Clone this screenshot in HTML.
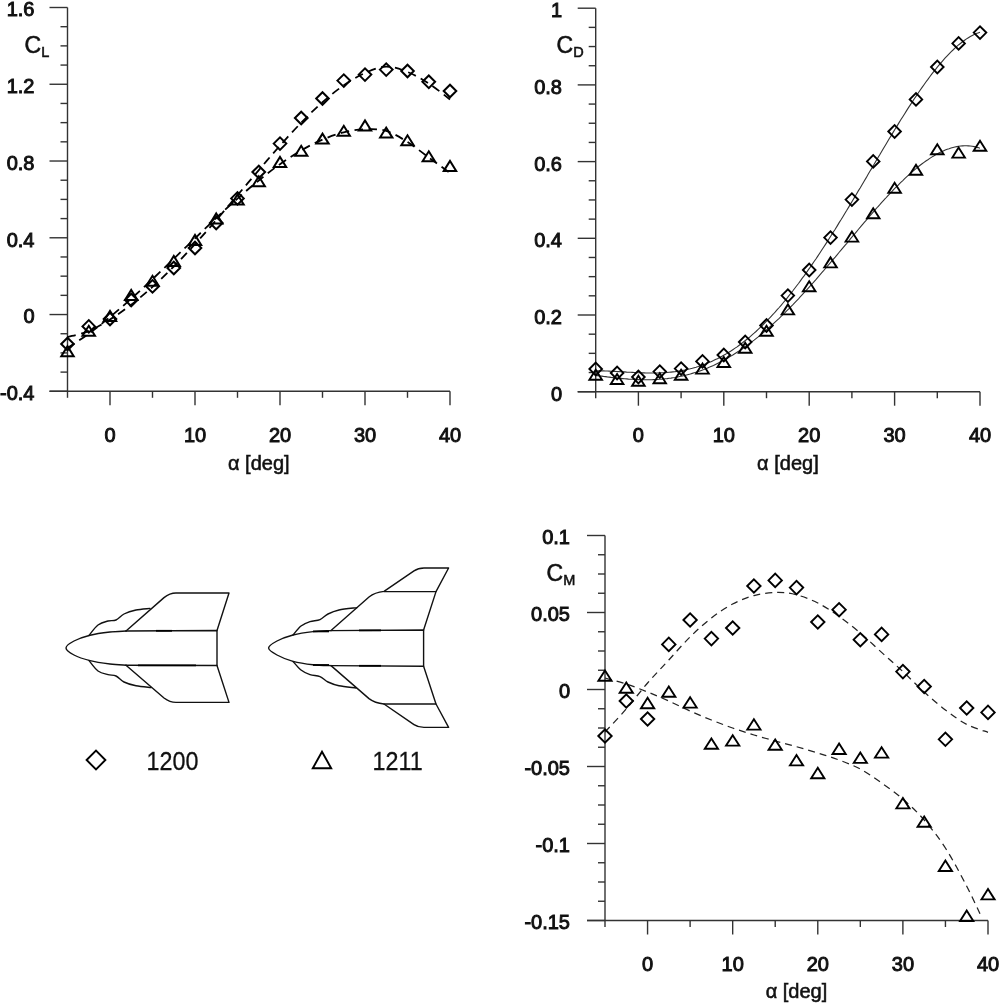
<!DOCTYPE html>
<html lang="en"><head><meta charset="utf-8"><title>Aerodynamic coefficients</title>
<style>
html,body{margin:0;padding:0;background:#fff;}
body{width:1000px;height:1003px;overflow:hidden;}
svg{display:block;}
text{font-family:'Liberation Sans', Arial, Helvetica, sans-serif;fill:#111;stroke:#111;stroke-width:0.95px;}
svg{filter:blur(0.45px);}
.t{font-size:20px;}
.c{font-size:23px;stroke-width:0.55px;}
.a{stroke-width:0.55px;}
.s{font-size:14.5px;}
.l{font-size:26.5px;stroke-width:0.3px;}
</style></head><body>
<svg width="1000" height="1003" viewBox="0 0 1000 1003">
<rect width="1000" height="1003" fill="#fff"/>
<path d="M67.50,7.50V391.30" stroke="#333" stroke-width="1.4" fill="none"/>
<path d="M49.50,391.30H450.00" stroke="#333" stroke-width="1.4" fill="none"/>
<path d="M49.50,7.50H67.50" stroke="#333" stroke-width="1.4"/>
<path d="M60.50,26.69H67.50" stroke="#333" stroke-width="1.4"/>
<path d="M60.50,45.88H67.50" stroke="#333" stroke-width="1.4"/>
<path d="M60.50,65.07H67.50" stroke="#333" stroke-width="1.4"/>
<path d="M49.50,84.26H67.50" stroke="#333" stroke-width="1.4"/>
<path d="M60.50,103.45H67.50" stroke="#333" stroke-width="1.4"/>
<path d="M60.50,122.64H67.50" stroke="#333" stroke-width="1.4"/>
<path d="M60.50,141.83H67.50" stroke="#333" stroke-width="1.4"/>
<path d="M49.50,161.02H67.50" stroke="#333" stroke-width="1.4"/>
<path d="M60.50,180.21H67.50" stroke="#333" stroke-width="1.4"/>
<path d="M60.50,199.40H67.50" stroke="#333" stroke-width="1.4"/>
<path d="M60.50,218.59H67.50" stroke="#333" stroke-width="1.4"/>
<path d="M49.50,237.78H67.50" stroke="#333" stroke-width="1.4"/>
<path d="M60.50,256.97H67.50" stroke="#333" stroke-width="1.4"/>
<path d="M60.50,276.16H67.50" stroke="#333" stroke-width="1.4"/>
<path d="M60.50,295.35H67.50" stroke="#333" stroke-width="1.4"/>
<path d="M49.50,314.54H67.50" stroke="#333" stroke-width="1.4"/>
<path d="M60.50,333.73H67.50" stroke="#333" stroke-width="1.4"/>
<path d="M60.50,352.92H67.50" stroke="#333" stroke-width="1.4"/>
<path d="M60.50,372.11H67.50" stroke="#333" stroke-width="1.4"/>
<path d="M49.50,391.30H67.50" stroke="#333" stroke-width="1.4"/>
<text x="34.5" y="16.4" text-anchor="end" class="t">1.6</text>
<text x="34.5" y="93.2" text-anchor="end" class="t">1.2</text>
<text x="34.5" y="169.9" text-anchor="end" class="t">0.8</text>
<text x="34.5" y="246.7" text-anchor="end" class="t">0.4</text>
<text x="34.5" y="323.4" text-anchor="end" class="t">0</text>
<text x="34.5" y="400.2" text-anchor="end" class="t">-0.4</text>
<path d="M67.50,391.30V397.80" stroke="#333" stroke-width="1.4"/>
<path d="M110.00,391.30V405.30" stroke="#333" stroke-width="1.4"/>
<text x="110.0" y="441.7" text-anchor="middle" class="t">0</text>
<path d="M152.50,391.30V397.80" stroke="#333" stroke-width="1.4"/>
<path d="M195.00,391.30V405.30" stroke="#333" stroke-width="1.4"/>
<text x="195.0" y="441.7" text-anchor="middle" class="t">10</text>
<path d="M237.50,391.30V397.80" stroke="#333" stroke-width="1.4"/>
<path d="M280.00,391.30V405.30" stroke="#333" stroke-width="1.4"/>
<text x="280.0" y="441.7" text-anchor="middle" class="t">20</text>
<path d="M322.50,391.30V397.80" stroke="#333" stroke-width="1.4"/>
<path d="M365.00,391.30V405.30" stroke="#333" stroke-width="1.4"/>
<text x="365.0" y="441.7" text-anchor="middle" class="t">30</text>
<path d="M407.50,391.30V397.80" stroke="#333" stroke-width="1.4"/>
<path d="M450.00,391.30V405.30" stroke="#333" stroke-width="1.4"/>
<text x="450.0" y="441.7" text-anchor="middle" class="t">40</text>
<text x="258.8" y="469.8" text-anchor="middle" class="t a">α [deg]</text>
<text x="24.5" y="53.2" class="c">C<tspan class="s" dy="4">L</tspan></text>
<path d="M67.5,337.0C71.0,336.0 81.7,334.0 88.8,331.1C95.8,328.2 102.9,323.9 110.0,319.5C117.1,315.1 124.2,310.1 131.2,304.7C138.3,299.2 145.4,293.2 152.5,286.9C159.6,280.5 166.7,273.7 173.8,266.5C180.8,259.4 187.9,251.8 195.0,244.1C202.1,236.3 209.2,228.2 216.2,220.1C223.3,211.9 230.4,203.5 237.5,195.2C244.6,186.9 251.7,178.4 258.8,170.1C265.8,161.9 272.9,153.6 280.0,145.6C287.1,137.7 294.2,129.9 301.2,122.7C308.3,115.4 315.4,108.4 322.5,102.2C329.6,96.0 336.7,90.1 343.8,85.3C350.8,80.4 357.9,76.1 365.0,73.0C372.1,69.9 379.2,66.8 386.2,66.6C393.3,66.5 400.4,69.2 407.5,72.0C414.6,74.8 421.7,78.9 428.8,83.5C435.8,88.1 446.5,96.8 450.0,99.5" fill="none" stroke="#000" stroke-width="1.8" stroke-dasharray="8.5 5.5"/>
<path d="M67.5,348.0C71.0,345.6 81.7,338.8 88.8,333.7C95.8,328.5 102.9,322.9 110.0,317.0C117.1,311.2 124.2,305.0 131.2,298.7C138.3,292.4 145.4,285.8 152.5,279.1C159.6,272.5 166.7,265.6 173.8,258.8C180.8,252.0 187.9,245.1 195.0,238.3C202.1,231.5 209.2,224.7 216.2,218.0C223.3,211.4 230.4,204.8 237.5,198.6C244.6,192.3 251.7,186.2 258.8,180.5C265.8,174.7 272.9,169.2 280.0,164.2C287.1,159.2 294.2,154.5 301.2,150.4C308.3,146.3 315.4,142.6 322.5,139.6C329.6,136.6 336.7,134.1 343.8,132.4C350.8,130.6 357.9,129.5 365.0,129.3C372.1,129.0 379.2,128.8 386.2,130.9C393.3,133.0 400.4,137.6 407.5,142.0C414.6,146.4 421.7,152.3 428.8,157.5C435.8,162.7 446.5,170.4 450.0,173.0" fill="none" stroke="#000" stroke-width="1.8" stroke-dasharray="8.5 5.5"/>
<path d="M61.2,344.0L67.5,337.7L73.8,344.0L67.5,350.3Z" fill="none" stroke="#000" stroke-width="2.0" stroke-linejoin="miter"/>
<path d="M82.5,326.4L88.8,320.1L95.0,326.4L88.8,332.7Z" fill="none" stroke="#000" stroke-width="2.0" stroke-linejoin="miter"/>
<path d="M103.7,319.0L110.0,312.7L116.3,319.0L110.0,325.3Z" fill="none" stroke="#000" stroke-width="2.0" stroke-linejoin="miter"/>
<path d="M125.0,300.0L131.2,293.7L137.6,300.0L131.2,306.3Z" fill="none" stroke="#000" stroke-width="2.0" stroke-linejoin="miter"/>
<path d="M146.2,286.4L152.5,280.1L158.8,286.4L152.5,292.7Z" fill="none" stroke="#000" stroke-width="2.0" stroke-linejoin="miter"/>
<path d="M167.4,268.0L173.8,261.7L180.1,268.0L173.8,274.3Z" fill="none" stroke="#000" stroke-width="2.0" stroke-linejoin="miter"/>
<path d="M188.7,248.0L195.0,241.7L201.3,248.0L195.0,254.3Z" fill="none" stroke="#000" stroke-width="2.0" stroke-linejoin="miter"/>
<path d="M209.9,223.0L216.2,216.7L222.6,223.0L216.2,229.3Z" fill="none" stroke="#000" stroke-width="2.0" stroke-linejoin="miter"/>
<path d="M231.2,198.4L237.5,192.1L243.8,198.4L237.5,204.7Z" fill="none" stroke="#000" stroke-width="2.0" stroke-linejoin="miter"/>
<path d="M252.4,172.0L258.8,165.7L265.1,172.0L258.8,178.3Z" fill="none" stroke="#000" stroke-width="2.0" stroke-linejoin="miter"/>
<path d="M273.7,143.6L280.0,137.3L286.3,143.6L280.0,149.9Z" fill="none" stroke="#000" stroke-width="2.0" stroke-linejoin="miter"/>
<path d="M294.9,118.0L301.2,111.7L307.6,118.0L301.2,124.3Z" fill="none" stroke="#000" stroke-width="2.0" stroke-linejoin="miter"/>
<path d="M316.2,98.5L322.5,92.2L328.8,98.5L322.5,104.8Z" fill="none" stroke="#000" stroke-width="2.0" stroke-linejoin="miter"/>
<path d="M337.4,80.6L343.8,74.3L350.1,80.6L343.8,86.9Z" fill="none" stroke="#000" stroke-width="2.0" stroke-linejoin="miter"/>
<path d="M358.7,74.6L365.0,68.3L371.3,74.6L365.0,80.9Z" fill="none" stroke="#000" stroke-width="2.0" stroke-linejoin="miter"/>
<path d="M379.9,69.6L386.2,63.3L392.6,69.6L386.2,75.9Z" fill="none" stroke="#000" stroke-width="2.0" stroke-linejoin="miter"/>
<path d="M401.2,71.0L407.5,64.7L413.8,71.0L407.5,77.3Z" fill="none" stroke="#000" stroke-width="2.0" stroke-linejoin="miter"/>
<path d="M422.4,81.8L428.8,75.5L435.1,81.8L428.8,88.1Z" fill="none" stroke="#000" stroke-width="2.0" stroke-linejoin="miter"/>
<path d="M443.7,91.0L450.0,84.7L456.3,91.0L450.0,97.3Z" fill="none" stroke="#000" stroke-width="2.0" stroke-linejoin="miter"/>
<path d="M61.3,356.2L67.5,346.2L73.7,356.2Z" fill="none" stroke="#000" stroke-width="2.0" stroke-linejoin="miter"/>
<path d="M82.5,335.8L88.8,325.8L95.0,335.8Z" fill="none" stroke="#000" stroke-width="2.0" stroke-linejoin="miter"/>
<path d="M103.8,321.0L110.0,311.0L116.2,321.0Z" fill="none" stroke="#000" stroke-width="2.0" stroke-linejoin="miter"/>
<path d="M125.0,300.0L131.2,290.0L137.4,300.0Z" fill="none" stroke="#000" stroke-width="2.0" stroke-linejoin="miter"/>
<path d="M146.3,285.8L152.5,275.8L158.7,285.8Z" fill="none" stroke="#000" stroke-width="2.0" stroke-linejoin="miter"/>
<path d="M167.6,266.0L173.8,256.0L179.9,266.0Z" fill="none" stroke="#000" stroke-width="2.0" stroke-linejoin="miter"/>
<path d="M188.8,245.0L195.0,235.0L201.2,245.0Z" fill="none" stroke="#000" stroke-width="2.0" stroke-linejoin="miter"/>
<path d="M210.1,223.5L216.2,213.5L222.4,223.5Z" fill="none" stroke="#000" stroke-width="2.0" stroke-linejoin="miter"/>
<path d="M231.3,204.5L237.5,194.5L243.7,204.5Z" fill="none" stroke="#000" stroke-width="2.0" stroke-linejoin="miter"/>
<path d="M252.6,186.3L258.8,176.3L264.9,186.3Z" fill="none" stroke="#000" stroke-width="2.0" stroke-linejoin="miter"/>
<path d="M273.8,167.0L280.0,157.0L286.2,167.0Z" fill="none" stroke="#000" stroke-width="2.0" stroke-linejoin="miter"/>
<path d="M295.1,155.8L301.2,145.8L307.4,155.8Z" fill="none" stroke="#000" stroke-width="2.0" stroke-linejoin="miter"/>
<path d="M316.3,143.6L322.5,133.6L328.7,143.6Z" fill="none" stroke="#000" stroke-width="2.0" stroke-linejoin="miter"/>
<path d="M337.6,135.8L343.8,125.8L349.9,135.8Z" fill="none" stroke="#000" stroke-width="2.0" stroke-linejoin="miter"/>
<path d="M358.8,130.5L365.0,120.5L371.2,130.5Z" fill="none" stroke="#000" stroke-width="2.0" stroke-linejoin="miter"/>
<path d="M380.1,137.6L386.2,127.6L392.4,137.6Z" fill="none" stroke="#000" stroke-width="2.0" stroke-linejoin="miter"/>
<path d="M401.3,145.3L407.5,135.3L413.7,145.3Z" fill="none" stroke="#000" stroke-width="2.0" stroke-linejoin="miter"/>
<path d="M422.6,161.3L428.8,151.3L434.9,161.3Z" fill="none" stroke="#000" stroke-width="2.0" stroke-linejoin="miter"/>
<path d="M443.8,170.9L450.0,160.9L456.2,170.9Z" fill="none" stroke="#000" stroke-width="2.0" stroke-linejoin="miter"/>
<path d="M595.70,8.20V391.70" stroke="#333" stroke-width="1.4" fill="none"/>
<path d="M577.70,391.70H980.00" stroke="#333" stroke-width="1.4" fill="none"/>
<path d="M577.70,8.20H595.70" stroke="#333" stroke-width="1.4"/>
<path d="M588.70,27.38H595.70" stroke="#333" stroke-width="1.4"/>
<path d="M588.70,46.55H595.70" stroke="#333" stroke-width="1.4"/>
<path d="M588.70,65.73H595.70" stroke="#333" stroke-width="1.4"/>
<path d="M577.70,84.90H595.70" stroke="#333" stroke-width="1.4"/>
<path d="M588.70,104.08H595.70" stroke="#333" stroke-width="1.4"/>
<path d="M588.70,123.25H595.70" stroke="#333" stroke-width="1.4"/>
<path d="M588.70,142.43H595.70" stroke="#333" stroke-width="1.4"/>
<path d="M577.70,161.60H595.70" stroke="#333" stroke-width="1.4"/>
<path d="M588.70,180.77H595.70" stroke="#333" stroke-width="1.4"/>
<path d="M588.70,199.95H595.70" stroke="#333" stroke-width="1.4"/>
<path d="M588.70,219.12H595.70" stroke="#333" stroke-width="1.4"/>
<path d="M577.70,238.30H595.70" stroke="#333" stroke-width="1.4"/>
<path d="M588.70,257.47H595.70" stroke="#333" stroke-width="1.4"/>
<path d="M588.70,276.65H595.70" stroke="#333" stroke-width="1.4"/>
<path d="M588.70,295.82H595.70" stroke="#333" stroke-width="1.4"/>
<path d="M577.70,315.00H595.70" stroke="#333" stroke-width="1.4"/>
<path d="M588.70,334.18H595.70" stroke="#333" stroke-width="1.4"/>
<path d="M588.70,353.35H595.70" stroke="#333" stroke-width="1.4"/>
<path d="M588.70,372.52H595.70" stroke="#333" stroke-width="1.4"/>
<path d="M577.70,391.70H595.70" stroke="#333" stroke-width="1.4"/>
<text x="562.0" y="17.1" text-anchor="end" class="t">1</text>
<text x="562.0" y="93.8" text-anchor="end" class="t">0.8</text>
<text x="562.0" y="170.5" text-anchor="end" class="t">0.6</text>
<text x="562.0" y="247.2" text-anchor="end" class="t">0.4</text>
<text x="562.0" y="323.9" text-anchor="end" class="t">0.2</text>
<text x="562.0" y="400.6" text-anchor="end" class="t">0</text>
<path d="M595.70,391.70V398.20" stroke="#333" stroke-width="1.4"/>
<path d="M638.40,391.70V405.70" stroke="#333" stroke-width="1.4"/>
<text x="638.4" y="442.2" text-anchor="middle" class="t">0</text>
<path d="M681.10,391.70V398.20" stroke="#333" stroke-width="1.4"/>
<path d="M723.80,391.70V405.70" stroke="#333" stroke-width="1.4"/>
<text x="723.8" y="442.2" text-anchor="middle" class="t">10</text>
<path d="M766.50,391.70V398.20" stroke="#333" stroke-width="1.4"/>
<path d="M809.20,391.70V405.70" stroke="#333" stroke-width="1.4"/>
<text x="809.2" y="442.2" text-anchor="middle" class="t">20</text>
<path d="M851.90,391.70V398.20" stroke="#333" stroke-width="1.4"/>
<path d="M894.60,391.70V405.70" stroke="#333" stroke-width="1.4"/>
<text x="894.6" y="442.2" text-anchor="middle" class="t">30</text>
<path d="M937.30,391.70V398.20" stroke="#333" stroke-width="1.4"/>
<path d="M980.00,391.70V405.70" stroke="#333" stroke-width="1.4"/>
<text x="980.0" y="442.2" text-anchor="middle" class="t">40</text>
<text x="787.9" y="470.3" text-anchor="middle" class="t a">α [deg]</text>
<text x="556.5" y="53.2" class="c">C<tspan class="s" dy="4">D</tspan></text>
<path d="M595.7,370.9L597.6,370.9L599.6,370.9L601.5,370.9L603.4,370.9L605.4,371.0L607.3,371.0L609.2,371.1L611.1,371.2L613.1,371.3L615.0,371.4L616.9,371.5L618.9,371.6L620.8,371.7L622.7,371.8L624.7,371.9L626.6,372.1L628.5,372.2L630.5,372.3L632.4,372.4L634.3,372.5L636.3,372.6L638.2,372.7L640.1,372.8L642.0,372.9L644.0,372.9L645.9,373.0L647.8,373.0L649.8,373.0L651.7,373.0L653.6,373.0L655.6,373.0L657.5,373.0L659.4,372.9L661.4,372.8L663.3,372.7L665.2,372.6L667.2,372.5L669.1,372.3L671.0,372.1L672.9,371.9L674.9,371.7L676.8,371.4L678.7,371.1L680.7,370.8L682.6,370.4L684.5,370.1L686.5,369.7L688.4,369.2L690.3,368.8L692.3,368.3L694.2,367.7L696.1,367.2L698.1,366.6L700.0,365.9L701.9,365.3L703.8,364.6L705.8,363.9L707.7,363.1L709.6,362.3L711.6,361.4L713.5,360.6L715.4,359.6L717.4,358.7L719.3,357.7L721.2,356.7L723.2,355.6L725.1,354.5L727.0,353.4L728.9,352.2L730.9,351.0L732.8,349.7L734.7,348.4L736.7,347.1L738.6,345.7L740.5,344.3L742.5,342.8L744.4,341.3L746.3,339.8L748.3,338.2L750.2,336.6L752.1,334.9L754.1,333.2L756.0,331.5L757.9,329.7L759.8,327.9L761.8,326.0L763.7,324.1L765.6,322.2L767.6,320.2L769.5,318.2L771.4,316.1L773.4,314.0L775.3,311.9L777.2,309.7L779.2,307.5L781.1,305.3L783.0,303.0L785.0,300.7L786.9,298.3L788.8,295.9L790.7,293.5L792.7,291.0L794.6,288.5L796.5,286.0L798.5,283.5L800.4,280.9L802.3,278.2L804.3,275.6L806.2,272.9L808.1,270.1L810.1,267.4L812.0,264.6L813.9,261.8L815.9,259.0L817.8,256.1L819.7,253.2L821.6,250.3L823.6,247.3L825.5,244.4L827.4,241.4L829.4,238.3L831.3,235.3L833.2,232.2L835.2,229.2L837.1,226.1L839.0,222.9L841.0,219.8L842.9,216.7L844.8,213.5L846.8,210.3L848.7,207.1L850.6,203.9L852.5,200.7L854.5,197.4L856.4,194.2L858.3,190.9L860.3,187.7L862.2,184.4L864.1,181.2L866.1,177.9L868.0,174.6L869.9,171.3L871.9,168.1L873.8,164.8L875.7,161.5L877.6,158.2L879.6,155.0L881.5,151.7L883.4,148.5L885.4,145.2L887.3,142.0L889.2,138.8L891.2,135.6L893.1,132.4L895.0,129.2L897.0,126.1L898.9,122.9L900.8,119.8L902.8,116.7L904.7,113.7L906.6,110.6L908.5,107.6L910.5,104.6L912.4,101.7L914.3,98.7L916.3,95.9L918.2,93.0L920.1,90.2L922.1,87.4L924.0,84.7L925.9,82.0L927.9,79.4L929.8,76.8L931.7,74.2L933.7,71.7L935.6,69.3L937.5,66.9L939.4,64.6L941.4,62.3L943.3,60.1L945.2,57.9L947.2,55.8L949.1,53.8L951.0,51.8L953.0,50.0L954.9,48.1L956.8,46.4L958.8,44.7L960.7,43.2L962.6,41.7L964.6,40.2L966.5,38.9L968.4,37.7L970.3,36.5L972.3,35.5L974.2,34.5L976.1,33.6L978.1,32.9L980.0,32.2" fill="none" stroke="#333" stroke-width="1.1"/>
<path d="M595.7,375.4L597.6,375.6L599.6,375.9L601.5,376.1L603.4,376.4L605.4,376.6L607.3,376.9L609.2,377.1L611.1,377.4L613.1,377.6L615.0,377.8L616.9,378.0L618.9,378.2L620.8,378.4L622.7,378.6L624.7,378.8L626.6,378.9L628.5,379.1L630.5,379.2L632.4,379.3L634.3,379.5L636.3,379.6L638.2,379.6L640.1,379.7L642.0,379.7L644.0,379.8L645.9,379.8L647.8,379.8L649.8,379.8L651.7,379.7L653.6,379.6L655.6,379.6L657.5,379.5L659.4,379.3L661.4,379.2L663.3,379.0L665.2,378.8L667.2,378.6L669.1,378.3L671.0,378.1L672.9,377.8L674.9,377.5L676.8,377.1L678.7,376.7L680.7,376.3L682.6,375.9L684.5,375.5L686.5,375.0L688.4,374.5L690.3,374.0L692.3,373.4L694.2,372.8L696.1,372.2L698.1,371.6L700.0,370.9L701.9,370.2L703.8,369.5L705.8,368.7L707.7,367.9L709.6,367.1L711.6,366.2L713.5,365.4L715.4,364.5L717.4,363.5L719.3,362.6L721.2,361.6L723.2,360.5L725.1,359.5L727.0,358.4L728.9,357.3L730.9,356.1L732.8,355.0L734.7,353.8L736.7,352.5L738.6,351.3L740.5,350.0L742.5,348.7L744.4,347.3L746.3,345.9L748.3,344.5L750.2,343.1L752.1,341.6L754.1,340.1L756.0,338.6L757.9,337.1L759.8,335.5L761.8,333.9L763.7,332.3L765.6,330.6L767.6,328.9L769.5,327.2L771.4,325.5L773.4,323.7L775.3,321.9L777.2,320.1L779.2,318.3L781.1,316.4L783.0,314.6L785.0,312.7L786.9,310.7L788.8,308.8L790.7,306.8L792.7,304.8L794.6,302.8L796.5,300.8L798.5,298.8L800.4,296.7L802.3,294.6L804.3,292.5L806.2,290.4L808.1,288.3L810.1,286.1L812.0,284.0L813.9,281.8L815.9,279.6L817.8,277.4L819.7,275.2L821.6,272.9L823.6,270.7L825.5,268.5L827.4,266.2L829.4,263.9L831.3,261.7L833.2,259.4L835.2,257.1L837.1,254.8L839.0,252.5L841.0,250.2L842.9,247.9L844.8,245.6L846.8,243.3L848.7,241.0L850.6,238.7L852.5,236.4L854.5,234.1L856.4,231.8L858.3,229.5L860.3,227.2L862.2,224.9L864.1,222.6L866.1,220.4L868.0,218.1L869.9,215.9L871.9,213.6L873.8,211.4L875.7,209.2L877.6,207.0L879.6,204.9L881.5,202.7L883.4,200.6L885.4,198.5L887.3,196.4L889.2,194.3L891.2,192.3L893.1,190.2L895.0,188.2L897.0,186.3L898.9,184.3L900.8,182.4L902.8,180.6L904.7,178.7L906.6,176.9L908.5,175.1L910.5,173.4L912.4,171.7L914.3,170.0L916.3,168.4L918.2,166.8L920.1,165.3L922.1,163.8L924.0,162.4L925.9,161.0L927.9,159.7L929.8,158.4L931.7,157.1L933.7,156.0L935.6,154.8L937.5,153.8L939.4,152.8L941.4,151.8L943.3,150.9L945.2,150.1L947.2,149.3L949.1,148.7L951.0,148.0L953.0,147.5L954.9,147.0L956.8,146.6L958.8,146.3L960.7,146.0L962.6,145.9L964.6,145.8L966.5,145.8L968.4,145.9L970.3,146.0L972.3,146.3L974.2,146.6L976.1,147.1L978.1,147.6L980.0,148.2" fill="none" stroke="#333" stroke-width="1.1"/>
<path d="M589.4,369.0L595.7,362.7L602.0,369.0L595.7,375.3Z" fill="none" stroke="#000" stroke-width="1.9" stroke-linejoin="miter"/>
<path d="M610.8,373.0L617.1,366.7L623.4,373.0L617.1,379.3Z" fill="none" stroke="#000" stroke-width="1.9" stroke-linejoin="miter"/>
<path d="M632.1,377.0L638.4,370.7L644.7,377.0L638.4,383.3Z" fill="none" stroke="#000" stroke-width="1.9" stroke-linejoin="miter"/>
<path d="M653.5,371.6L659.8,365.3L666.0,371.6L659.8,377.9Z" fill="none" stroke="#000" stroke-width="1.9" stroke-linejoin="miter"/>
<path d="M674.8,368.6L681.1,362.3L687.4,368.6L681.1,374.9Z" fill="none" stroke="#000" stroke-width="1.9" stroke-linejoin="miter"/>
<path d="M696.2,361.4L702.5,355.1L708.8,361.4L702.5,367.7Z" fill="none" stroke="#000" stroke-width="1.9" stroke-linejoin="miter"/>
<path d="M717.5,355.0L723.8,348.7L730.1,355.0L723.8,361.3Z" fill="none" stroke="#000" stroke-width="1.9" stroke-linejoin="miter"/>
<path d="M738.9,342.0L745.2,335.7L751.5,342.0L745.2,348.3Z" fill="none" stroke="#000" stroke-width="1.9" stroke-linejoin="miter"/>
<path d="M760.2,325.5L766.5,319.2L772.8,325.5L766.5,331.8Z" fill="none" stroke="#000" stroke-width="1.9" stroke-linejoin="miter"/>
<path d="M781.6,295.6L787.9,289.3L794.1,295.6L787.9,301.9Z" fill="none" stroke="#000" stroke-width="1.9" stroke-linejoin="miter"/>
<path d="M802.9,270.0L809.2,263.7L815.5,270.0L809.2,276.3Z" fill="none" stroke="#000" stroke-width="1.9" stroke-linejoin="miter"/>
<path d="M824.2,237.6L830.5,231.3L836.8,237.6L830.5,243.9Z" fill="none" stroke="#000" stroke-width="1.9" stroke-linejoin="miter"/>
<path d="M845.6,199.6L851.9,193.3L858.2,199.6L851.9,205.9Z" fill="none" stroke="#000" stroke-width="1.9" stroke-linejoin="miter"/>
<path d="M867.0,161.4L873.2,155.1L879.5,161.4L873.2,167.7Z" fill="none" stroke="#000" stroke-width="1.9" stroke-linejoin="miter"/>
<path d="M888.3,131.5L894.6,125.2L900.9,131.5L894.6,137.8Z" fill="none" stroke="#000" stroke-width="1.9" stroke-linejoin="miter"/>
<path d="M909.7,99.4L916.0,93.1L922.2,99.4L916.0,105.7Z" fill="none" stroke="#000" stroke-width="1.9" stroke-linejoin="miter"/>
<path d="M931.0,67.0L937.3,60.7L943.6,67.0L937.3,73.3Z" fill="none" stroke="#000" stroke-width="1.9" stroke-linejoin="miter"/>
<path d="M952.4,43.4L958.6,37.1L964.9,43.4L958.6,49.7Z" fill="none" stroke="#000" stroke-width="1.9" stroke-linejoin="miter"/>
<path d="M973.7,32.6L980.0,26.3L986.3,32.6L980.0,38.9Z" fill="none" stroke="#000" stroke-width="1.9" stroke-linejoin="miter"/>
<path d="M589.4,379.8L595.7,369.8L602.0,379.8Z" fill="none" stroke="#000" stroke-width="1.9" stroke-linejoin="miter"/>
<path d="M610.8,384.0L617.1,374.0L623.4,384.0Z" fill="none" stroke="#000" stroke-width="1.9" stroke-linejoin="miter"/>
<path d="M632.1,385.8L638.4,375.8L644.7,385.8Z" fill="none" stroke="#000" stroke-width="1.9" stroke-linejoin="miter"/>
<path d="M653.5,383.2L659.8,373.2L666.0,383.2Z" fill="none" stroke="#000" stroke-width="1.9" stroke-linejoin="miter"/>
<path d="M674.8,379.8L681.1,369.8L687.4,379.8Z" fill="none" stroke="#000" stroke-width="1.9" stroke-linejoin="miter"/>
<path d="M696.2,373.6L702.5,363.6L708.8,373.6Z" fill="none" stroke="#000" stroke-width="1.9" stroke-linejoin="miter"/>
<path d="M717.5,367.0L723.8,357.0L730.1,367.0Z" fill="none" stroke="#000" stroke-width="1.9" stroke-linejoin="miter"/>
<path d="M738.9,352.8L745.2,342.8L751.5,352.8Z" fill="none" stroke="#000" stroke-width="1.9" stroke-linejoin="miter"/>
<path d="M760.2,335.8L766.5,325.8L772.8,335.8Z" fill="none" stroke="#000" stroke-width="1.9" stroke-linejoin="miter"/>
<path d="M781.6,314.4L787.9,304.4L794.1,314.4Z" fill="none" stroke="#000" stroke-width="1.9" stroke-linejoin="miter"/>
<path d="M802.9,291.2L809.2,281.2L815.5,291.2Z" fill="none" stroke="#000" stroke-width="1.9" stroke-linejoin="miter"/>
<path d="M824.2,267.4L830.5,257.4L836.8,267.4Z" fill="none" stroke="#000" stroke-width="1.9" stroke-linejoin="miter"/>
<path d="M845.6,241.6L851.9,231.6L858.2,241.6Z" fill="none" stroke="#000" stroke-width="1.9" stroke-linejoin="miter"/>
<path d="M867.0,218.2L873.2,208.2L879.5,218.2Z" fill="none" stroke="#000" stroke-width="1.9" stroke-linejoin="miter"/>
<path d="M888.3,192.8L894.6,182.8L900.9,192.8Z" fill="none" stroke="#000" stroke-width="1.9" stroke-linejoin="miter"/>
<path d="M909.7,174.8L916.0,164.8L922.2,174.8Z" fill="none" stroke="#000" stroke-width="1.9" stroke-linejoin="miter"/>
<path d="M931.0,154.2L937.3,144.2L943.6,154.2Z" fill="none" stroke="#000" stroke-width="1.9" stroke-linejoin="miter"/>
<path d="M952.4,157.6L958.6,147.6L964.9,157.6Z" fill="none" stroke="#000" stroke-width="1.9" stroke-linejoin="miter"/>
<path d="M973.7,150.8L980.0,140.8L986.3,150.8Z" fill="none" stroke="#000" stroke-width="1.9" stroke-linejoin="miter"/>
<path d="M605.00,535.50V920.50" stroke="#333" stroke-width="1.4" fill="none"/>
<path d="M587.00,920.50H988.00" stroke="#333" stroke-width="1.4" fill="none"/>
<path d="M587.00,535.50H605.00" stroke="#333" stroke-width="1.4"/>
<path d="M598.00,554.75H605.00" stroke="#333" stroke-width="1.4"/>
<path d="M598.00,574.00H605.00" stroke="#333" stroke-width="1.4"/>
<path d="M598.00,593.25H605.00" stroke="#333" stroke-width="1.4"/>
<path d="M587.00,612.50H605.00" stroke="#333" stroke-width="1.4"/>
<path d="M598.00,631.75H605.00" stroke="#333" stroke-width="1.4"/>
<path d="M598.00,651.00H605.00" stroke="#333" stroke-width="1.4"/>
<path d="M598.00,670.25H605.00" stroke="#333" stroke-width="1.4"/>
<path d="M587.00,689.50H605.00" stroke="#333" stroke-width="1.4"/>
<path d="M598.00,708.75H605.00" stroke="#333" stroke-width="1.4"/>
<path d="M598.00,728.00H605.00" stroke="#333" stroke-width="1.4"/>
<path d="M598.00,747.25H605.00" stroke="#333" stroke-width="1.4"/>
<path d="M587.00,766.50H605.00" stroke="#333" stroke-width="1.4"/>
<path d="M598.00,785.75H605.00" stroke="#333" stroke-width="1.4"/>
<path d="M598.00,805.00H605.00" stroke="#333" stroke-width="1.4"/>
<path d="M598.00,824.25H605.00" stroke="#333" stroke-width="1.4"/>
<path d="M587.00,843.50H605.00" stroke="#333" stroke-width="1.4"/>
<path d="M598.00,862.75H605.00" stroke="#333" stroke-width="1.4"/>
<path d="M598.00,882.00H605.00" stroke="#333" stroke-width="1.4"/>
<path d="M598.00,901.25H605.00" stroke="#333" stroke-width="1.4"/>
<path d="M587.00,920.50H605.00" stroke="#333" stroke-width="1.4"/>
<text x="570.0" y="544.4" text-anchor="end" class="t">0.1</text>
<text x="570.0" y="621.4" text-anchor="end" class="t">0.05</text>
<text x="570.0" y="698.4" text-anchor="end" class="t">0</text>
<text x="570.0" y="775.4" text-anchor="end" class="t">-0.05</text>
<text x="570.0" y="852.4" text-anchor="end" class="t">-0.1</text>
<text x="570.0" y="929.4" text-anchor="end" class="t">-0.15</text>
<path d="M605.00,920.50V927.00" stroke="#333" stroke-width="1.4"/>
<path d="M647.56,920.50V934.50" stroke="#333" stroke-width="1.4"/>
<text x="647.6" y="971.2" text-anchor="middle" class="t">0</text>
<path d="M690.11,920.50V927.00" stroke="#333" stroke-width="1.4"/>
<path d="M732.67,920.50V934.50" stroke="#333" stroke-width="1.4"/>
<text x="732.7" y="971.2" text-anchor="middle" class="t">10</text>
<path d="M775.22,920.50V927.00" stroke="#333" stroke-width="1.4"/>
<path d="M817.78,920.50V934.50" stroke="#333" stroke-width="1.4"/>
<text x="817.8" y="971.2" text-anchor="middle" class="t">20</text>
<path d="M860.33,920.50V927.00" stroke="#333" stroke-width="1.4"/>
<path d="M902.89,920.50V934.50" stroke="#333" stroke-width="1.4"/>
<text x="902.9" y="971.2" text-anchor="middle" class="t">30</text>
<path d="M945.44,920.50V927.00" stroke="#333" stroke-width="1.4"/>
<path d="M988.00,920.50V934.50" stroke="#333" stroke-width="1.4"/>
<text x="988.0" y="971.2" text-anchor="middle" class="t">40</text>
<text x="796.5" y="997.8" text-anchor="middle" class="t a">α [deg]</text>
<text x="546.5" y="581.0" class="c">C<tspan class="s" dy="4">M</tspan></text>
<path d="M605.0,732.0C608.5,728.2 619.1,717.2 626.2,709.0C633.3,700.8 640.5,691.2 647.6,683.0C654.7,674.8 661.7,667.7 668.8,660.0C675.9,652.3 682.9,644.0 690.0,637.0C697.1,630.0 704.3,623.5 711.4,618.0C718.5,612.5 725.5,607.7 732.6,604.0C739.7,600.3 746.6,597.5 754.0,595.6C761.4,593.7 769.9,592.5 777.0,592.4C784.1,592.3 789.7,593.0 796.5,594.8C803.3,596.6 810.7,599.4 817.8,603.0C824.9,606.6 831.9,611.4 839.0,616.4C846.1,621.4 853.2,627.0 860.3,633.0C867.4,639.0 874.5,646.0 881.6,652.4C888.7,658.8 895.8,665.0 902.9,671.6C910.0,678.2 917.1,685.6 924.2,692.0C931.3,698.4 938.3,704.6 945.4,710.0C952.5,715.4 959.6,720.7 966.7,724.4C973.8,728.1 984.5,731.0 988.0,732.3" fill="none" stroke="#222" stroke-width="1.25" stroke-dasharray="7 5"/>
<path d="M605.0,678.0C608.5,679.0 619.1,681.7 626.2,684.0C633.3,686.3 640.5,689.2 647.6,692.0C654.7,694.8 661.7,697.8 668.8,701.0C675.9,704.2 682.9,707.8 690.0,711.0C697.1,714.2 704.3,717.2 711.4,720.0C718.5,722.8 725.5,725.5 732.6,728.0C739.7,730.5 746.9,732.8 754.0,735.0C761.1,737.2 768.1,739.0 775.2,741.0C782.3,743.0 789.4,744.7 796.5,746.7C803.6,748.7 810.7,750.8 817.8,753.0C824.9,755.2 831.9,757.3 839.0,760.0C846.1,762.7 853.2,765.2 860.3,769.0C867.4,772.8 874.5,778.0 881.6,783.0C888.7,788.0 895.7,792.8 902.8,799.0C909.9,805.2 917.1,811.8 924.2,820.0C931.3,828.2 938.3,837.0 945.4,848.0C952.5,859.0 960.5,874.3 966.6,886.0C972.7,897.7 979.4,912.7 982.0,918.0" fill="none" stroke="#222" stroke-width="1.25" stroke-dasharray="7 5"/>
<path d="M598.3,736.0L605.0,729.3L611.7,736.0L605.0,742.7Z" fill="none" stroke="#000" stroke-width="1.9" stroke-linejoin="miter"/>
<path d="M619.6,701.0L626.3,694.3L633.0,701.0L626.3,707.7Z" fill="none" stroke="#000" stroke-width="1.9" stroke-linejoin="miter"/>
<path d="M640.9,719.0L647.6,712.3L654.3,719.0L647.6,725.7Z" fill="none" stroke="#000" stroke-width="1.9" stroke-linejoin="miter"/>
<path d="M662.1,644.4L668.8,637.7L675.5,644.4L668.8,651.1Z" fill="none" stroke="#000" stroke-width="1.9" stroke-linejoin="miter"/>
<path d="M683.4,620.0L690.1,613.3L696.8,620.0L690.1,626.7Z" fill="none" stroke="#000" stroke-width="1.9" stroke-linejoin="miter"/>
<path d="M704.7,638.6L711.4,631.9L718.1,638.6L711.4,645.3Z" fill="none" stroke="#000" stroke-width="1.9" stroke-linejoin="miter"/>
<path d="M726.0,628.0L732.7,621.3L739.4,628.0L732.7,634.7Z" fill="none" stroke="#000" stroke-width="1.9" stroke-linejoin="miter"/>
<path d="M747.2,586.0L753.9,579.3L760.6,586.0L753.9,592.7Z" fill="none" stroke="#000" stroke-width="1.9" stroke-linejoin="miter"/>
<path d="M768.5,580.4L775.2,573.7L781.9,580.4L775.2,587.1Z" fill="none" stroke="#000" stroke-width="1.9" stroke-linejoin="miter"/>
<path d="M789.8,587.6L796.5,580.9L803.2,587.6L796.5,594.3Z" fill="none" stroke="#000" stroke-width="1.9" stroke-linejoin="miter"/>
<path d="M811.1,622.0L817.8,615.3L824.5,622.0L817.8,628.7Z" fill="none" stroke="#000" stroke-width="1.9" stroke-linejoin="miter"/>
<path d="M832.4,609.7L839.1,603.0L845.8,609.7L839.1,616.4Z" fill="none" stroke="#000" stroke-width="1.9" stroke-linejoin="miter"/>
<path d="M853.6,639.7L860.3,633.0L867.0,639.7L860.3,646.4Z" fill="none" stroke="#000" stroke-width="1.9" stroke-linejoin="miter"/>
<path d="M874.9,634.4L881.6,627.7L888.3,634.4L881.6,641.1Z" fill="none" stroke="#000" stroke-width="1.9" stroke-linejoin="miter"/>
<path d="M896.2,671.6L902.9,664.9L909.6,671.6L902.9,678.3Z" fill="none" stroke="#000" stroke-width="1.9" stroke-linejoin="miter"/>
<path d="M917.5,686.5L924.2,679.8L930.9,686.5L924.2,693.2Z" fill="none" stroke="#000" stroke-width="1.9" stroke-linejoin="miter"/>
<path d="M938.7,739.3L945.4,732.6L952.1,739.3L945.4,746.0Z" fill="none" stroke="#000" stroke-width="1.9" stroke-linejoin="miter"/>
<path d="M960.0,708.0L966.7,701.3L973.4,708.0L966.7,714.7Z" fill="none" stroke="#000" stroke-width="1.9" stroke-linejoin="miter"/>
<path d="M981.3,712.4L988.0,705.7L994.7,712.4L988.0,719.1Z" fill="none" stroke="#000" stroke-width="1.9" stroke-linejoin="miter"/>
<path d="M598.4,680.8L605.0,670.4L611.6,680.8Z" fill="none" stroke="#000" stroke-width="1.9" stroke-linejoin="miter"/>
<path d="M619.7,692.8L626.3,682.4L632.9,692.8Z" fill="none" stroke="#000" stroke-width="1.9" stroke-linejoin="miter"/>
<path d="M641.0,708.2L647.6,697.8L654.2,708.2Z" fill="none" stroke="#000" stroke-width="1.9" stroke-linejoin="miter"/>
<path d="M662.2,696.8L668.8,686.4L675.4,696.8Z" fill="none" stroke="#000" stroke-width="1.9" stroke-linejoin="miter"/>
<path d="M683.5,707.6L690.1,697.2L696.7,707.6Z" fill="none" stroke="#000" stroke-width="1.9" stroke-linejoin="miter"/>
<path d="M704.8,748.8L711.4,738.4L718.0,748.8Z" fill="none" stroke="#000" stroke-width="1.9" stroke-linejoin="miter"/>
<path d="M726.1,745.6L732.7,735.2L739.3,745.6Z" fill="none" stroke="#000" stroke-width="1.9" stroke-linejoin="miter"/>
<path d="M747.3,729.6L753.9,719.2L760.5,729.6Z" fill="none" stroke="#000" stroke-width="1.9" stroke-linejoin="miter"/>
<path d="M768.6,749.8L775.2,739.4L781.8,749.8Z" fill="none" stroke="#000" stroke-width="1.9" stroke-linejoin="miter"/>
<path d="M789.9,765.4L796.5,755.0L803.1,765.4Z" fill="none" stroke="#000" stroke-width="1.9" stroke-linejoin="miter"/>
<path d="M811.2,778.2L817.8,767.8L824.4,778.2Z" fill="none" stroke="#000" stroke-width="1.9" stroke-linejoin="miter"/>
<path d="M832.5,754.0L839.1,743.6L845.7,754.0Z" fill="none" stroke="#000" stroke-width="1.9" stroke-linejoin="miter"/>
<path d="M853.7,762.9L860.3,752.5L866.9,762.9Z" fill="none" stroke="#000" stroke-width="1.9" stroke-linejoin="miter"/>
<path d="M875.0,757.6L881.6,747.2L888.2,757.6Z" fill="none" stroke="#000" stroke-width="1.9" stroke-linejoin="miter"/>
<path d="M896.3,808.4L902.9,798.0L909.5,808.4Z" fill="none" stroke="#000" stroke-width="1.9" stroke-linejoin="miter"/>
<path d="M917.6,826.8L924.2,816.4L930.8,826.8Z" fill="none" stroke="#000" stroke-width="1.9" stroke-linejoin="miter"/>
<path d="M938.8,871.0L945.4,860.6L952.0,871.0Z" fill="none" stroke="#000" stroke-width="1.9" stroke-linejoin="miter"/>
<path d="M960.1,921.0L966.7,910.6L973.3,921.0Z" fill="none" stroke="#000" stroke-width="1.9" stroke-linejoin="miter"/>
<path d="M981.4,899.4L988.0,889.0L994.6,899.4Z" fill="none" stroke="#000" stroke-width="1.9" stroke-linejoin="miter"/>
<path d="M126.0,631.0C123.3,631.2 116.0,631.3 110.0,632.0C104.0,632.7 96.0,633.7 90.0,635.2C84.0,636.7 78.0,638.9 74.0,641.0C70.0,643.1 66.0,645.7 66.0,648.0C66.0,650.3 70.0,652.9 74.0,655.0C78.0,657.1 84.0,659.1 90.0,660.6C96.0,662.1 104.0,663.2 110.0,664.0C116.0,664.8 123.3,665.0 126.0,665.2" fill="none" stroke="#111" stroke-width="1.4" stroke-linejoin="round" stroke-linecap="round"/>
<path d="M126.0,631.0L217.0,630.5L217.0,665.5L126.0,665.2" fill="none" stroke="#111" stroke-width="1.4" stroke-linejoin="round" stroke-linecap="round"/>
<path d="M89.0,635.4C90.5,633.7 94.8,627.4 98.0,625.0C101.2,622.6 105.0,621.8 108.0,621.0C111.0,620.2 113.3,621.2 116.0,620.0C118.7,618.8 120.7,615.7 124.0,614.0C127.3,612.3 131.7,610.9 136.0,610.0C140.3,609.1 147.7,608.7 150.0,608.4" fill="none" stroke="#111" stroke-width="1.4" stroke-linejoin="round" stroke-linecap="round"/>
<path d="M89.0,660.6C90.5,662.3 94.8,668.7 98.0,671.0C101.2,673.3 105.0,673.8 108.0,674.6C111.0,675.4 113.3,674.8 116.0,676.0C118.7,677.2 120.7,680.4 124.0,682.0C127.3,683.6 131.5,684.9 136.0,685.8C140.5,686.7 148.5,687.3 151.0,687.6" fill="none" stroke="#111" stroke-width="1.4" stroke-linejoin="round" stroke-linecap="round"/>
<path d="M126,631 L164,597.6 C168,594.4 171,593 176,593 L229,593 L217,630.5" fill="none" stroke="#111" stroke-width="1.4" stroke-linejoin="round" stroke-linecap="round"/>
<path d="M126,665.2 L164,698 C168,701 171,702.4 176,702.4 L229,702.4 L217,665.5" fill="none" stroke="#111" stroke-width="1.4" stroke-linejoin="round" stroke-linecap="round"/>
<path d="M331.0,630.6C328.0,630.8 319.3,630.9 313.0,631.6C306.7,632.3 299.0,633.4 293.0,635.0C287.0,636.6 281.1,638.8 277.0,641.0C272.9,643.2 268.6,645.7 268.6,648.0C268.6,650.3 272.9,652.8 277.0,655.0C281.1,657.2 287.0,659.8 293.0,661.4C299.0,663.0 306.7,664.1 313.0,664.8C319.3,665.5 328.0,665.5 331.0,665.6" fill="none" stroke="#111" stroke-width="1.4" stroke-linejoin="round" stroke-linecap="round"/>
<path d="M331.0,630.6L423.6,630.0L423.6,666.2L331.0,665.6" fill="none" stroke="#111" stroke-width="1.4" stroke-linejoin="round" stroke-linecap="round"/>
<path d="M293.0,635.0C294.3,633.5 298.2,628.2 301.0,626.0C303.8,623.8 306.8,622.7 310.0,621.6C313.2,620.5 317.0,620.9 320.0,619.6C323.0,618.3 324.8,615.6 328.0,614.0C331.2,612.4 334.2,611.1 339.0,610.0C343.8,608.9 354.0,608.0 357.0,607.6" fill="none" stroke="#111" stroke-width="1.4" stroke-linejoin="round" stroke-linecap="round"/>
<path d="M293.0,661.4C294.3,662.8 298.2,667.8 301.0,670.0C303.8,672.2 306.8,673.5 310.0,674.6C313.2,675.7 317.0,675.4 320.0,676.6C323.0,677.8 324.8,680.5 328.0,682.0C331.2,683.5 334.3,684.8 339.0,685.8C343.7,686.8 353.2,687.6 356.0,688.0" fill="none" stroke="#111" stroke-width="1.4" stroke-linejoin="round" stroke-linecap="round"/>
<path d="M331,630.6 L369,597 C374,593 378,592 384,591.4 L414,570.8 C417,568.8 420,568 424,568 L448.6,568 L436,591.6 L423.6,630" fill="none" stroke="#111" stroke-width="1.4" stroke-linejoin="round" stroke-linecap="round"/>
<path d="M384,591.6 H436" fill="none" stroke="#111" stroke-width="1.4" stroke-linejoin="round" stroke-linecap="round"/>
<path d="M331,665.6 L369,698.6 C374,702.4 378,703.4 384,704 L414,724.6 C417,726.6 420,727.4 424,727.4 L448.6,727.4 L436,704 L423.6,666.2" fill="none" stroke="#111" stroke-width="1.4" stroke-linejoin="round" stroke-linecap="round"/>
<path d="M384,704 H436" fill="none" stroke="#111" stroke-width="1.4" stroke-linejoin="round" stroke-linecap="round"/>
<path d="M156,630.8H172" fill="none" stroke="#000" stroke-width="1.8"/>
<path d="M138,665.3H196" fill="none" stroke="#000" stroke-width="1.8"/>
<path d="M313,631.4H329" fill="none" stroke="#000" stroke-width="1.8"/>
<path d="M359,630.4H381" fill="none" stroke="#000" stroke-width="1.8"/>
<path d="M313,665H329" fill="none" stroke="#000" stroke-width="1.8"/>
<path d="M359,665.8H381" fill="none" stroke="#000" stroke-width="1.8"/>
<path d="M86.6,760.0L96.0,750.6L105.4,760.0L96.0,769.4Z" fill="none" stroke="#000" stroke-width="1.9" stroke-linejoin="miter"/>
<path d="M312.8,768.2L322.0,751.8L331.2,768.2Z" fill="none" stroke="#000" stroke-width="1.9" stroke-linejoin="miter"/>
<text transform="translate(146.5,770.3) scale(0.88,1)" class="l">1200</text>
<text transform="translate(372.5,770.3) scale(0.88,1)" class="l">1211</text>
</svg>
</body></html>
